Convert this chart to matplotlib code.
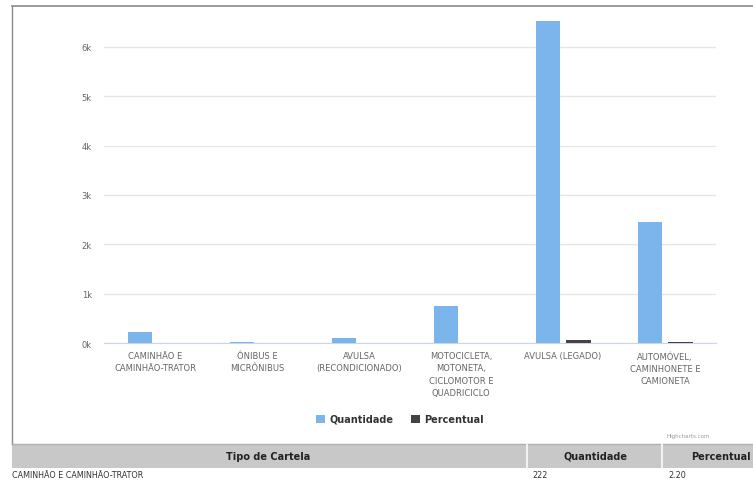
import numpy as np
import matplotlib.pyplot as plt
from matplotlib.patches import Rectangle
from matplotlib.lines import Line2D

categorias = [
    "CAMINHÃO E\nCAMINHÃO-TRATOR",
    "ÔNIBUS E\nMICRÔNIBUS",
    "AVULSA\n(RECONDICIONADO)",
    "MOTOCICLETA,\nMOTONETA,\nCICLOMOTOR E\nQUADRICICLO",
    "AVULSA (LEGADO)",
    "AUTOMÓVEL,\nCAMINHONETE E\nCAMIONETA",
]
quantidade = [222, 25, 110, 745, 6525, 2460]
percentual = [2.20, 0.25, 1.09, 7.39, 64.69, 24.39]
yticks = [0, 1000, 2000, 3000, 4000, 5000, 6000]
ytick_labels = ["0k", "1k", "2k", "3k", "4k", "5k", "6k"]

W, H = 753, 481
fig = plt.figure(figsize=(W / 100, H / 100), dpi=100)

def px(x, y):
    return x / W, 1 - y / H

# plot area
left, right = 104.5, 716
base, top = 344, 18.4
ax = fig.add_axes([left / W, 1 - base / H, (right - left) / W, (base - top) / H])

x = np.arange(len(categorias))
bw = 0.24
ax.bar(x - 0.15, quantidade, bw, color="#7cb5ec", label="Quantidade", zorder=3)
ax.bar(x + 0.15, percentual, bw, color="#434348", label="Percentual", zorder=3)

ax.set_xlim(-0.5, len(categorias) - 0.5)
ax.set_ylim(0, 6600)
ax.set_yticks(yticks)
ax.set_yticklabels(ytick_labels, fontsize=6, color="#666666")
ax.set_xticks(x)
ax.set_xticklabels(categorias, fontsize=6, color="#666666", linespacing=1.45, va="top")
ax.tick_params(axis="y", length=0, pad=9)
ax.tick_params(axis="x", length=0, pad=6)
ax.grid(axis="y", color="#e6e6e6", linewidth=1, zorder=0)
for s in ["top", "right", "left"]:
    ax.spines[s].set_visible(False)
ax.spines["bottom"].set_color("#ccd6eb")

# legend
fig.legend(loc="center", bbox_to_anchor=px(400, 420), ncol=2, frameon=False,
           handlelength=0.9, handleheight=0.9, handletextpad=0.5, columnspacing=1.8,
           prop={"size": 7, "weight": "bold"}, labelcolor="#333333")

fig.text(*px(710, 437), "Highcharts.com", fontsize=4, color="#999999", ha="right", va="center")

# container frame
fig.add_artist(Line2D([12 / W, 12 / W], [1 - 7 / H, 1 - 445 / H], color="#8a8a8a", lw=1))
fig.add_artist(Line2D([12 / W, 1], [1 - 7 / H, 1 - 7 / H], color="#8a8a8a", lw=1.2))

# table header
fig.add_artist(Rectangle(px(12, 469), (W - 12) / W, 24 / H, color="#c8c8c8", lw=0))
fig.add_artist(Line2D([12 / W, 1], [1 - 445 / H, 1 - 445 / H], color="#b0b0b0", lw=1))
for sx in [527, 662]:
    fig.add_artist(Line2D([sx / W, sx / W], [1 - 445 / H, 1 - 469 / H], color="#f2f2f2", lw=1.5))
fig.text(*px(268, 457), "Tipo de Cartela", fontsize=7, weight="bold", color="#222222", ha="center", va="center")
fig.text(*px(595, 457), "Quantidade", fontsize=7, weight="bold", color="#222222", ha="center", va="center")
fig.text(*px(721, 457), "Percentual", fontsize=7, weight="bold", color="#222222", ha="center", va="center")

# first table row
fig.text(*px(12, 471.5), categorias[0].replace("\n", " "), fontsize=5.8, color="#333333", ha="left", va="top")
fig.text(*px(532, 471.5), str(quantidade[0]), fontsize=5.8, color="#333333", ha="left", va="top")
fig.text(*px(668, 471.5), f"{percentual[0]:.2f}", fontsize=5.8, color="#333333", ha="left", va="top")

fig.savefig("out.png", dpi=100)
